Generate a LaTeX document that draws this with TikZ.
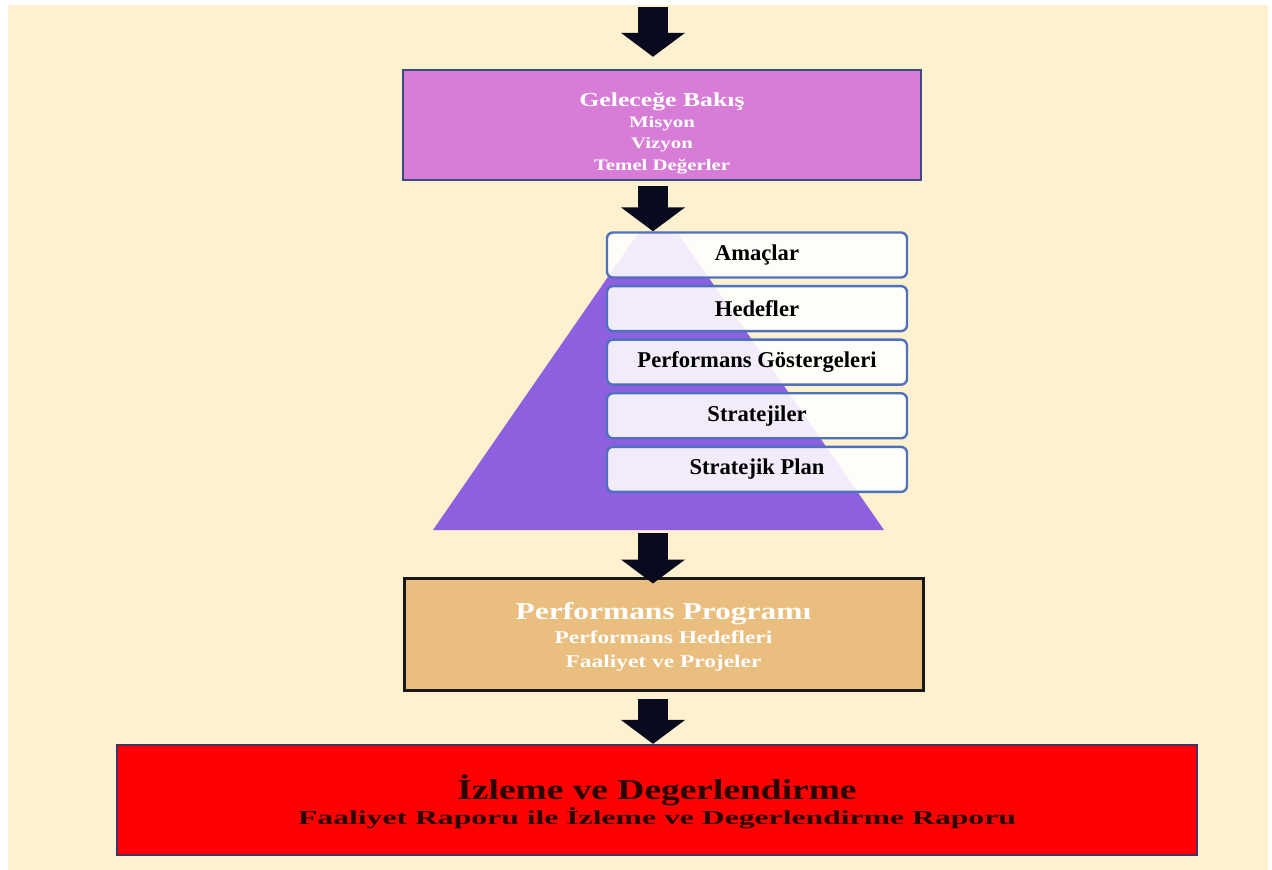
\documentclass[tikz,border=0pt]{standalone}
\usepackage{fontspec}
\setmainfont{Liberation Serif}
\newfontfamily\widefont[FakeStretch=1.3]{Liberation Serif}
\newfontfamily\widerfont[FakeStretch=1.6]{Liberation Serif}
\usetikzlibrary{arrows.meta,positioning}
\definecolor{cream}{RGB}{253,241,207}
\definecolor{orchidc}{RGB}{215,125,215}
\definecolor{gelline}{RGB}{60,75,125}
\definecolor{pyrfill}{RGB}{140,96,222}
\definecolor{pyrline}{RGB}{79,113,190}
\definecolor{tanc}{RGB}{233,190,126}
\definecolor{redline}{RGB}{70,50,100}
\definecolor{redtext}{RGB}{40,0,0}
\definecolor{arrowc}{RGB}{10,10,30}

\begin{document}
\begin{tikzpicture}[
  x=0.5pt, y=-0.5pt, node distance=3.1pt, >=Triangle,
  gelb/.style={rectangle,draw=gelline,line width=1.2pt,fill=orchidc,align=center,text=white,minimum width=259pt,minimum height=55pt,inner sep=2pt,font=\widefont\bfseries\fontsize{8}{10.7}\selectfont},
  lvl/.style={rectangle,rounded corners=3pt,draw=pyrline,line width=1.2pt,fill=white,fill opacity=0.88,text opacity=1,minimum width=150pt,minimum height=22.5pt,inner sep=2pt,font=\bfseries\fontsize{11.3}{13}\selectfont},
  perfb/.style={rectangle,draw=black!90,line width=1.5pt,fill=tanc,align=center,text=white,minimum width=259.5pt,minimum height=56pt,inner sep=2pt,font=\widefont\bfseries\fontsize{9}{12}\selectfont},
  redb/.style={rectangle,draw=redline,line width=1.1pt,fill=red,align=center,text=redtext,minimum width=540pt,minimum height=55pt,inner sep=2pt,font=\widerfont\bfseries\fontsize{9.9}{12.5}\selectfont},
  fat/.style={draw=arrowc,line width=15pt,-{Triangle[width=31.5pt,length=12pt]}}]
\useasboundingbox (0,0) rectangle (1272,870);
\fill[cream] (8,5) rectangle (1268,870);
\coordinate (top) at (653,7);
\coordinate (pb) at (658,530);
\fill[pyrfill] (433,530) -- (884,530) -- (677,232) -- (639,232) -- cycle;
\node[gelb] (gel) at (662,125) {\rule{0pt}{15pt}{\fontsize{9.9}{11}\selectfont Geleceğe Bakış}\\Misyon\\Vizyon\\Temel Değerler};
\node[lvl] (amac) at (757,255) {Amaçlar};
\node[lvl, below=of amac] (hedef) {Hedefler};
\node[lvl, below=of hedef] (gost) {Performans Göstergeleri};
\node[lvl, below=of gost] (strat) {Stratejiler};
\node[lvl, below=of strat] (plan) {Stratejik Plan};
\node[perfb] (perf) at (663.5,634) {\rule{0pt}{11.5pt}{\fontsize{12.1}{13}\selectfont Performans Programı}\\Performans Hedefleri\\Faaliyet ve Projeler};
\node[redb] (red) at (657,800) {\rule{0pt}{14pt}{\widefont\fontsize{14.4}{15}\selectfont İzleme ve Degerlendirme}\\Faaliyet Raporu ile İzleme ve Degerlendirme Raporu};
\draw[fat, shorten >=6pt] (top) -- (top |- gel.north);
\draw[fat, shorten <=2.5pt] (top |- gel.south) -- (top |- amac.north);
\draw[fat, shorten <=1.5pt, shorten >=-3.5pt] (top |- pb) -- (top |- perf.north);
\draw[fat, shorten <=3.5pt] (top |- perf.south) -- (top |- red.north);
\end{tikzpicture}
\end{document}
